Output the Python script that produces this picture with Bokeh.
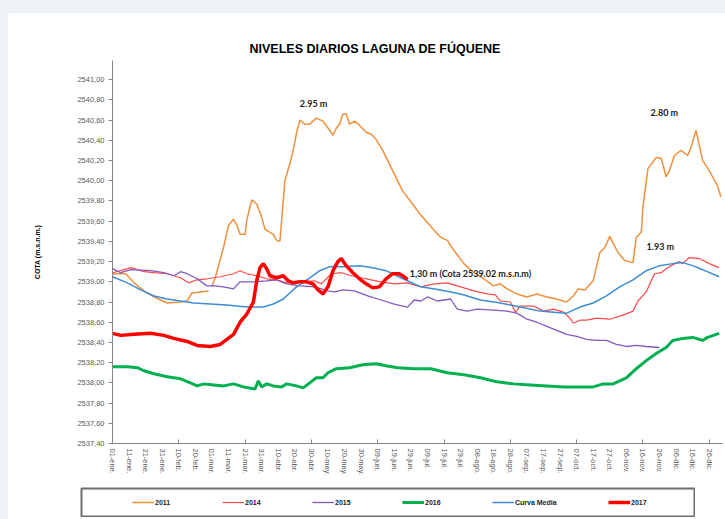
from bokeh.plotting import figure
from bokeh.models import (Range1d, FixedTicker, LinearAxis, CustomJSTickFormatter,
                          Legend, LegendItem, Label, Spacer)
from bokeh.layouts import row, column
from bokeh.embed import file_html
from bokeh.resources import INLINE

NAN = float("nan")

# ---- data: (day of year index, level m.s.n.m.) ----
s2011 = [(0, 2539.08), (8, 2539.08), (13, 2538.99), (19, 2538.91), (25, 2538.85), (33, 2538.79),
         (41, 2538.80), (45, 2538.81), (48, 2538.89), (53, 2538.90), (58, 2538.91), (59, NAN),
         (60, 2538.95), (62, 2539.04), (67, 2539.34), (70, 2539.56), (73, 2539.62), (75, 2539.56),
         (77, 2539.47), (80, 2539.47), (81, 2539.61), (84, 2539.81), (87, 2539.77), (90, 2539.64),
         (92, 2539.52), (95, 2539.49), (97, 2539.47), (99, 2539.41), (101, 2539.40), (103, 2539.80),
         (104, 2540.00), (107, 2540.17), (109, 2540.30), (111, 2540.47), (113, 2540.60), (116, 2540.56),
         (119, 2540.56), (123, 2540.62), (127, 2540.59), (131, 2540.50), (133, 2540.45), (135, 2540.52),
         (137, 2540.56), (139, 2540.66), (141, 2540.66), (143, 2540.56), (146, 2540.59), (149, 2540.55),
         (153, 2540.48), (156, 2540.46), (159, 2540.41), (163, 2540.30), (169, 2540.10), (175, 2539.90),
         (181, 2539.77), (186, 2539.66), (194, 2539.51), (198, 2539.44), (202, 2539.41), (206, 2539.31),
         (212, 2539.18), (218, 2539.09), (224, 2539.03), (230, 2538.96), (234, 2538.98), (238, 2538.93),
         (244, 2538.88), (250, 2538.85), (256, 2538.88), (262, 2538.85), (268, 2538.83), (274, 2538.80),
         (278, 2538.86), (281, 2538.93), (285, 2538.92), (290, 2539.01), (294, 2539.29), (297, 2539.34),
         (300, 2539.45), (302, 2539.38), (305, 2539.29), (309, 2539.21), (314, 2539.19), (316, 2539.44),
         (319, 2539.49), (320, 2539.74), (323, 2540.12), (328, 2540.23), (331, 2540.22), (334, 2540.04),
         (336, 2540.10), (339, 2540.25), (343, 2540.30), (347, 2540.25), (349, 2540.33), (352, 2540.50),
         (356, 2540.20), (360, 2540.10), (365, 2539.95), (367, 2539.84)]

s2014 = [(0, 2539.09), (5, 2539.11), (11, 2539.14), (15, 2539.12), (19, 2539.10), (25, 2539.09),
         (33, 2539.08), (41, 2539.04), (46, 2538.99), (51, 2539.02), (57, 2539.03), (65, 2539.05),
         (73, 2539.08), (77, 2539.11), (81, 2539.08), (87, 2539.06), (93, 2539.03), (99, 2539.02),
         (105, 2538.99), (113, 2539.00), (122, 2539.01), (126, 2538.98), (132, 2539.08), (138, 2539.09),
         (144, 2539.06), (150, 2539.04), (156, 2539.02), (162, 2539.00), (170, 2538.98), (178, 2538.99),
         (186, 2538.95), (194, 2538.98), (202, 2538.99), (210, 2538.95), (218, 2538.91), (226, 2538.88),
         (231, 2538.87), (234, 2538.81), (240, 2538.80), (243, 2538.70), (246, 2538.76), (254, 2538.76),
         (260, 2538.71), (266, 2538.73), (272, 2538.70), (276, 2538.64), (278, 2538.59), (282, 2538.62),
         (286, 2538.62), (292, 2538.64), (300, 2538.63), (308, 2538.67), (314, 2538.71), (317, 2538.81),
         (322, 2538.90), (325, 2539.01), (327, 2539.08), (331, 2539.09), (334, 2539.13), (338, 2539.17),
         (342, 2539.20), (344, 2539.18), (348, 2539.24), (354, 2539.23), (360, 2539.18), (366, 2539.14)]

s2015 = [(0, 2539.13), (5, 2539.09), (11, 2539.12), (23, 2539.11), (31, 2539.09), (37, 2539.06),
         (41, 2539.10), (45, 2539.08), (51, 2539.03), (57, 2538.96), (62, 2538.96), (67, 2538.95),
         (73, 2538.93), (77, 2539.00), (85, 2539.00), (93, 2539.01), (99, 2539.02), (105, 2538.98),
         (113, 2538.96), (122, 2538.95), (130, 2538.91), (134, 2538.90), (139, 2538.92), (146, 2538.91),
         (154, 2538.86), (162, 2538.82), (170, 2538.78), (178, 2538.75), (182, 2538.82), (186, 2538.81),
         (190, 2538.85), (196, 2538.81), (204, 2538.83), (208, 2538.73), (214, 2538.71), (220, 2538.73),
         (230, 2538.72), (238, 2538.71), (244, 2538.69), (250, 2538.63), (256, 2538.60), (262, 2538.56),
         (268, 2538.52), (274, 2538.48), (280, 2538.46), (286, 2538.43), (292, 2538.42), (298, 2538.42),
         (304, 2538.38), (310, 2538.36), (316, 2538.37), (322, 2538.36), (330, 2538.35)]

s2016 = [(0, 2538.16), (9, 2538.16), (15, 2538.15), (19, 2538.12), (25, 2538.09), (33, 2538.06),
         (41, 2538.04), (47, 2538.00), (51, 2537.97), (55, 2537.99), (61, 2537.98), (67, 2537.97),
         (73, 2537.99), (79, 2537.96), (86, 2537.94), (88, 2538.02), (90, 2537.96), (93, 2537.99),
         (97, 2537.97), (102, 2537.96), (105, 2537.99), (111, 2537.97), (115, 2537.95), (119, 2538.00),
         (123, 2538.05), (127, 2538.05), (130, 2538.10), (135, 2538.14), (143, 2538.15), (151, 2538.18),
         (159, 2538.19), (165, 2538.17), (172, 2538.15), (182, 2538.14), (192, 2538.14), (202, 2538.10),
         (212, 2538.08), (222, 2538.05), (232, 2538.01), (242, 2537.99), (252, 2537.98), (262, 2537.97),
         (272, 2537.96), (282, 2537.96), (290, 2537.96), (296, 2537.99), (302, 2537.99), (310, 2538.05),
         (316, 2538.14), (322, 2538.22), (328, 2538.29), (334, 2538.35), (338, 2538.42), (344, 2538.44),
         (350, 2538.45), (356, 2538.42), (359, 2538.45), (366, 2538.49)]

curva_media = [(0, 2539.05), (9, 2538.99), (17, 2538.92), (25, 2538.86), (33, 2538.83), (41, 2538.81),
               (49, 2538.79), (59, 2538.78), (69, 2538.77), (81, 2538.75), (91, 2538.75), (97, 2538.78),
               (103, 2538.83), (111, 2538.95), (119, 2539.04), (125, 2539.11), (131, 2539.15), (139, 2539.15),
               (149, 2539.16), (157, 2539.14), (165, 2539.11), (174, 2539.04), (186, 2538.95), (198, 2538.92),
               (210, 2538.88), (222, 2538.82), (234, 2538.79), (246, 2538.75), (258, 2538.71), (266, 2538.70),
               (274, 2538.69), (282, 2538.75), (290, 2538.79), (298, 2538.86), (306, 2538.95), (314, 2539.02),
               (322, 2539.11), (330, 2539.16), (338, 2539.18), (344, 2539.19), (350, 2539.16), (356, 2539.12),
               (366, 2539.05)]

s2017 = [(0, 2538.49), (5, 2538.47), (13, 2538.48), (23, 2538.49), (31, 2538.47), (37, 2538.44),
         (45, 2538.41), (51, 2538.37), (59, 2538.36), (65, 2538.38), (69, 2538.43), (73, 2538.48),
         (77, 2538.60), (81, 2538.68), (85, 2538.80), (87, 2539.01), (89, 2539.14), (91, 2539.18),
         (93, 2539.13), (95, 2539.06), (99, 2539.04), (103, 2539.06), (106, 2539.01), (109, 2538.99),
         (113, 2539.00), (117, 2539.00), (121, 2538.98), (124, 2538.92), (127, 2538.88), (130, 2538.95),
         (133, 2539.11), (136, 2539.20), (138, 2539.23), (141, 2539.16), (145, 2539.09), (149, 2539.03),
         (153, 2538.98), (157, 2538.94), (161, 2538.95), (165, 2539.03), (169, 2539.08), (173, 2539.08),
         (176, 2539.05), (178, 2539.02)]

x_tick_days = [0, 10, 20, 30, 40, 50, 60, 70, 80, 90, 100, 110, 120, 130, 140, 150, 160, 170, 180,
               190, 200, 210, 220, 230, 240, 250, 260, 270, 280, 290, 300, 310, 320, 330, 340, 350, 360]
x_tick_labels = ["01-ene.", "11-ene.", "21-ene.", "31-ene.", "10-feb.", "20-feb.", "01-mar.", "11-mar.",
                 "21-mar.", "31-mar.", "10-abr.", "20-abr.", "30-abr.", "10-may.", "20-may.", "30-may.",
                 "09-jun.", "19-jun.", "29-jun.", "09-jul.", "19-jul.", "29-jul.", "08-ago.", "18-ago.",
                 "28-ago.", "07-sep.", "17-sep.", "27-sep.", "07-oct.", "17-oct.", "27-oct.", "06-nov.",
                 "16-nov.", "26-nov.", "06-dic.", "16-dic.", "26-dic."]
x_mark_days = [0, 40, 80, 120, 160, 200, 240, 280, 320, 360]
y_ticks = [2537.4, 2537.6, 2537.8, 2538.0, 2538.2, 2538.4, 2538.6, 2538.8, 2539.0, 2539.2,
           2539.4, 2539.6, 2539.8, 2540.0, 2540.2, 2540.4, 2540.6, 2540.8, 2541.0]

FONT = "Liberation Sans"
GRAY = "#595959"
AXC = "#868686"
PAGE_BG = "#EEF3F7"

series_style = {
    "2011": dict(line_color="#F0913F", line_width=1.5),
    "2014": dict(line_color="#FF4A4A", line_width=1.2),
    "2015": dict(line_color="#8459BE", line_width=1.3),
    "2016": dict(line_color="#00B050", line_width=3),
    "Curva Media": dict(line_color="#3C8DD6", line_width=1.5),
    "2017": dict(line_color="#FF0000", line_width=3.5),
}
series_data = {"2011": s2011, "2014": s2014, "2015": s2015, "2016": s2016,
               "Curva Media": curva_media, "2017": s2017}

p = figure(width=717, height=471, output_backend="svg", toolbar_location=None,
           x_range=Range1d(0, 368), y_range=Range1d(2537.4, 2541.19),
           x_axis_type=None, y_axis_type=None,
           min_border_left=104, min_border_right=3, min_border_top=47, min_border_bottom=41,
           background_fill_color="white", border_fill_color="white")
p.outline_line_color = None

p.title.text = "NIVELES DIARIOS LAGUNA DE FÚQUENE"
p.title.align = "left"
p.title.offset = 137
p.title.standoff = 9
p.title.text_font = FONT
p.title.text_font_size = "12.5px"
p.title.text_font_style = "bold"
p.title.text_color = "black"

xaxis = LinearAxis(
    ticker=FixedTicker(ticks=x_tick_days, minor_ticks=x_mark_days),
    formatter=CustomJSTickFormatter(args=dict(days=x_tick_days, labels=x_tick_labels),
                                    code="const i = days.indexOf(Math.round(tick)); return i >= 0 ? labels[i] : '';"),
    major_label_orientation="vertical",
    major_tick_in=0, major_tick_out=0, minor_tick_in=4, minor_tick_out=0,
    major_label_standoff=5, axis_line_color=AXC, minor_tick_line_color=AXC,
    major_label_text_font=FONT, major_label_text_font_size="7.5px", major_label_text_color=GRAY)
p.add_layout(xaxis, "below")

yaxis = LinearAxis(
    ticker=FixedTicker(ticks=y_ticks, minor_ticks=[]),
    formatter=CustomJSTickFormatter(code="return tick.toFixed(2).replace('.', ',');"),
    major_tick_in=0, major_tick_out=4, minor_tick_out=0,
    major_label_standoff=4, axis_line_color=AXC, major_tick_line_color=AXC,
    major_label_text_font=FONT, major_label_text_font_size="7.5px", major_label_text_color=GRAY,
    axis_label="COTA (m.s.n.m.)", axis_label_text_font=FONT, axis_label_text_font_size="7px",
    axis_label_text_font_style="bold", axis_label_text_color="black", axis_label_standoff=33)
p.add_layout(yaxis, "left")

for name, s in series_data.items():
    p.line([d for d, _ in s], [v for _, v in s], **series_style[name])

ann = dict(text_font="Lato", text_font_size="9px", text_font_style="bold",
           text_color="#222222", text_baseline="middle", text_align="left")
p.add_layout(Label(x=113, y=2540.765, text="2.95 m", **ann))
p.add_layout(Label(x=324.6, y=2540.676, text="2.80 m", **ann))
p.add_layout(Label(x=322.2, y=2539.349, text="1.93 m", **ann))
p.add_layout(Label(x=179.3, y=2539.081, text="1,30 m (Cota 2539.02  m.s.n.m)", **ann))

# ---- legend box (its own small canvas, outlined) ----
lg = figure(width=615, height=30, output_backend="svg", toolbar_location=None,
            x_range=Range1d(0, 1), y_range=Range1d(0, 1), x_axis_type=None, y_axis_type=None,
            min_border=1, background_fill_color="white", border_fill_color="white")
lg.outline_line_color = "#6E6E6E"
lg.outline_line_width = 2
lg.xgrid.visible = False
lg.ygrid.visible = False

# legend handles: same styles, points kept outside the visible range
handles = {name: lg.line(x=[0, 1], y=[5, 5], **series_style[name]) for name in series_data}

common = dict(orientation="horizontal", padding=0, margin=0, glyph_width=22, glyph_height=10,
              label_height=10, label_standoff=1, spacing=0, label_width=67,
              label_text_font=FONT, label_text_font_size="7px", label_text_font_style="bold",
              label_text_color="#222222", border_line_color=None, background_fill_alpha=0)
first = ["2011", "2014", "2015", "2016", "Curva Media"]
leg1 = Legend(items=[LegendItem(label=n, renderers=[handles[n]]) for n in first],
              location=(51, 9), **common)
leg2 = Legend(items=[LegendItem(label="2017", renderers=[handles["2017"]])],
              location=(527, 9), **common)
lg.add_layout(leg1, "center")
lg.add_layout(leg2, "center")

layout = row(Spacer(width=8, height=519, styles={"background-color": PAGE_BG}),
             column(Spacer(width=717, height=13, styles={"background-color": PAGE_BG}),
                    p,
                    Spacer(width=717, height=3),
                    row(Spacer(width=72, height=30), lg)))

open("out.html", "w").write(file_html(layout, INLINE))
